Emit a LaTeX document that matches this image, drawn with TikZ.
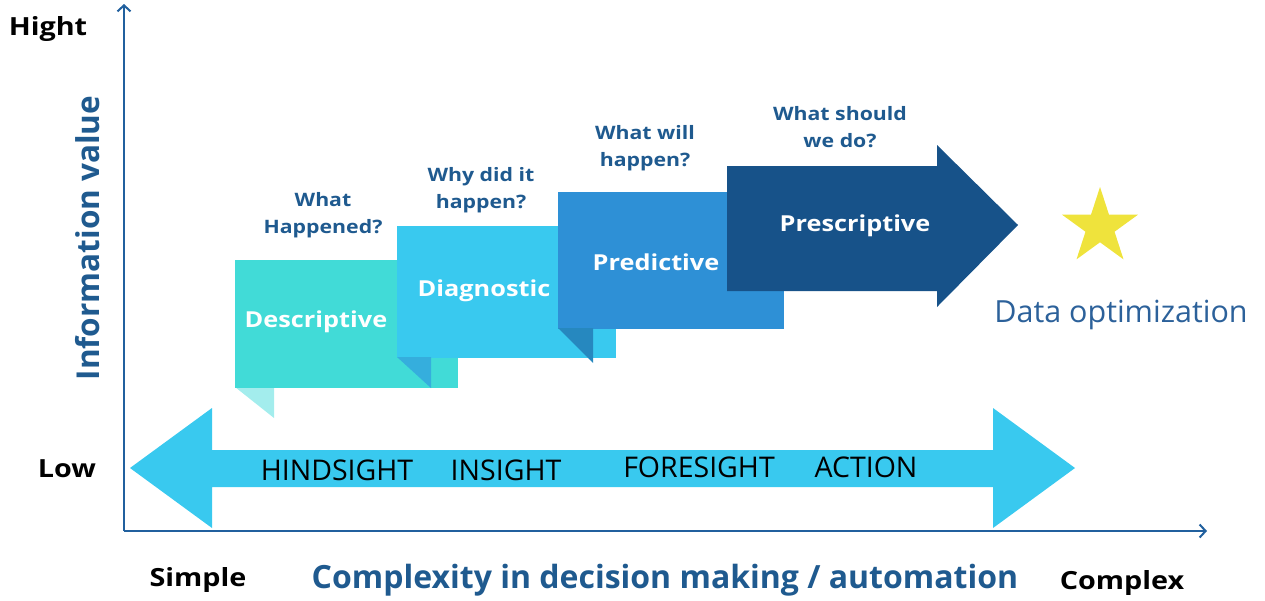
\documentclass[tikz,border=0pt]{standalone}
\usepackage{fontspec}
\setmainfont{Open Sans}[FakeStretch=1.15]
\newfontfamily\plainfont{Open Sans}
\usetikzlibrary{arrows.meta,shapes.geometric}
\definecolor{axisblue}{HTML}{21609E}
\definecolor{txtblue}{HTML}{1F5A8F}
\definecolor{teal}{HTML}{41DBD7}
\definecolor{teallight}{HTML}{A3EDED}
\definecolor{cyanb}{HTML}{39C9EF}
\definecolor{cyanfold}{HTML}{35AEDD}
\definecolor{predblue}{HTML}{2E90D6}
\definecolor{predfold}{HTML}{2688BF}
\definecolor{presblue}{HTML}{175289}
\definecolor{staryellow}{HTML}{EFE33C}
\definecolor{optblue}{HTML}{2C619A}
\begin{document}
\begin{tikzpicture}[x=1pt,y=-1pt,
  axis/.style={draw=axisblue,line width=2.5pt,-{Straight Barb[length=6pt,width=13pt,line width=2pt]}},
  endlabel/.style={font=\fontsize{25}{30}\selectfont\bfseries,text=black,inner sep=0},
  boxlabel/.style={font=\fontsize{22}{26}\selectfont\bfseries,text=white,inner sep=0},
  question/.style={font=\fontsize{18.5}{27}\selectfont\bfseries,text=txtblue,align=center,inner sep=0},
  phase/.style={font=\plainfont\fontsize{28.5}{32}\selectfont,text=black,inner sep=0}
]
\useasboundingbox (0,0) rectangle (1265,600);
% axes
\coordinate (O) at (124,531);
\coordinate (ytop) at (124,4);
\coordinate (xend) at (1207,531);
\draw[axis] (O) -- (ytop);
\draw[axis] (O) -- (xend);
% double arrow
\fill[cyanb] (130,468) -- (212,408) -- (212,450) -- (993,450) -- (993,408) -- (1075,468)
  -- (993,528) -- (993,487) -- (212,487) -- (212,528) -- cycle;
% descriptive
\fill[teallight] (235,387) -- (274,387) -- (274,418) -- cycle;
\fill[teal] (235,260) rectangle (458,388);
% diagnostic
\fill[cyanb] (397,226) rectangle (616,358);
\fill[cyanfold] (397,357) -- (431,357) -- (431,388) -- cycle;
% predictive
\fill[predblue] (558,192) rectangle (784,329);
\fill[predfold] (558,328) -- (593,328) -- (593,363) -- cycle;
% prescriptive arrow
\fill[presblue] (727,166) -- (937,166) -- (937,145) -- (1018,225) -- (937,307) -- (937,291) -- (727,291) -- cycle;
% box labels
\node[boxlabel] (desc) at (316,322) {Descriptive};
\node[boxlabel] (diag) at (484,291) {Diagnostic};
\node[boxlabel] (pred) at (656,262) {Predictive};
\node[boxlabel] (pres) at (855,226) {Prescriptive};
% questions
\node[question] (q1) at (323,215) {What\\Happened?};
\node[question] (q2) at (481,190) {Why did it\\happen?};
\node[question] (q3) at (645,148) {What will\\happen?};
\node[question] (q4) at (840,127) {What should\\we do?};
% phases
\node[phase] (hind) at (337,470) {HINDSIGHT};
\node[phase] (ins) at (506,470) {INSIGHT};
\node[phase] (fore) at (699,467) {FORESIGHT};
\node[phase] (act) at (866,467) {ACTION};
% star and optimization
\node[star,star points=5,star point ratio=2.618,fill=staryellow,minimum size=80pt,inner sep=0] (star) at (1100,227) {};
\node[font=\plainfont\fontsize{30.5}{34}\selectfont,text=optblue,inner sep=0] (opt) at (1121,315) {Data optimization};
% axis labels
\node[endlabel] (hight) at (48,29) {Hight};
\node[endlabel] (low) at (67,469) {Low};
\node[endlabel] (simple) at (198,580) {Simple};
\node[endlabel] (complex) at (1122,583) {Complex};
\node[font=\plainfont\fontsize{32}{36}\selectfont\bfseries,text=txtblue,inner sep=0] (cx) at (665,580) {Complexity in decision making / automation};
\node[font=\plainfont\fontsize{31.5}{34}\selectfont\bfseries,text=txtblue,rotate=90,inner sep=0] (iv) at (88,238) {Information value};
\end{tikzpicture}
\end{document}
